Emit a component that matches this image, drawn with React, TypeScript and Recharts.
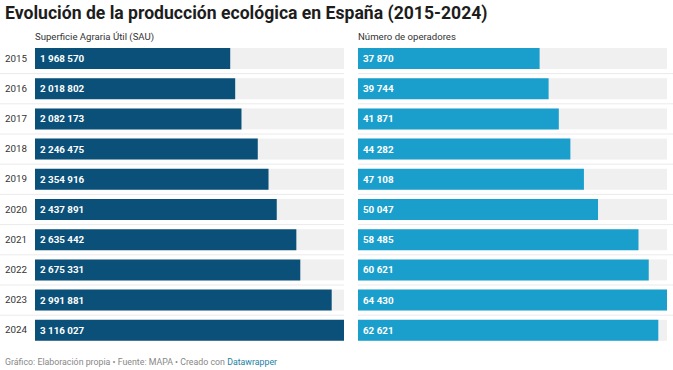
import { Bar, BarChart, LabelList, XAxis, YAxis } from "recharts";

const years = ["2015", "2016", "2017", "2018", "2019", "2020", "2021", "2022", "2023", "2024"];
const sauValues = [1968570, 2018802, 2082173, 2246475, 2354916, 2437891, 2635442, 2675331, 2991881, 3116027];
const operatorValues = [37870, 39744, 41871, 44282, 47108, 50047, 58485, 60621, 64430, 62621];

const sauData = years.map((year, i) => ({ year, value: sauValues[i] }));
const operatorData = years.map((year, i) => ({ year, value: operatorValues[i] }));

const font = "Roboto, 'Noto Sans', sans-serif";

// 1 968 570 style, space groups like the original
const formatNumber = (v: number) => String(v).replace(/\B(?=(\d{3})+(?!\d))/g, " ");

function makeBackground(lineLeft: number, lineRight: number) {
  return (props: any) => {
    const { x, y, width, height, index } = props;
    const gap = 4.6;
    return (
      <g>
        <rect x={x} y={y} width={width} height={height} fill="#f0f0f0" />
        {index < years.length - 1 && (
          <line
            x1={x - lineLeft}
            x2={x + width + lineRight}
            y1={y + height + gap}
            y2={y + height + gap}
            stroke="#ebebeb"
            strokeWidth={1}
          />
        )}
      </g>
    );
  };
}

function ValueLabel(props: any) {
  const { x, y, height, value } = props;
  return (
    <text
      x={x + 5}
      y={y + height / 2 + 3.5}
      fill="#ffffff"
      fontSize={9.8}
      fontWeight={700}
      fontFamily={font}
    >
      {formatNumber(value)}
    </text>
  );
}

export default function App() {
  return (
    <div style={{ position: "relative", width: 673, height: 370, background: "#fff", fontFamily: font, color: "#333" }}>
      <style>{"body{margin:0}"}</style>
      <div style={{ position: "absolute", left: 5, top: 3, fontSize: 17.6, fontWeight: 700, color: "#1d1d1d", whiteSpace: "nowrap" }}>
        Evolución de la producción ecológica en España (2015-2024)
      </div>
      <div style={{ position: "absolute", left: 35, top: 31, fontSize: 9.6, color: "#333" }}>Superficie Agraria Útil (SAU)</div>
      <div style={{ position: "absolute", left: 358, top: 31, fontSize: 9.6, color: "#333" }}>Número de operadores</div>

      <div style={{ position: "absolute", left: 0, top: 43.4 }}>
        <BarChart width={344} height={302} data={sauData} layout="vertical" margin={{ top: 0, right: 0, bottom: 0, left: 0 }}>
          <XAxis type="number" domain={[0, 3116027]} hide />
          <YAxis
            type="category"
            dataKey="year"
            width={35}
            axisLine={false}
            tickLine={false}
            tick={{ fill: "#333", fontSize: 9.8, fontFamily: font }}
          />
          <Bar
            dataKey="value"
            fill="#0a5078"
            barSize={21}
            isAnimationActive={false}
            background={makeBackground(35, 14)}
          >
            <LabelList dataKey="value" content={<ValueLabel />} />
          </Bar>
        </BarChart>
      </div>

      <div style={{ position: "absolute", left: 358, top: 43.4 }}>
        <BarChart width={315} height={302} data={operatorData} layout="vertical" margin={{ top: 0, right: 6, bottom: 0, left: 0 }}>
          <XAxis type="number" domain={[0, 64430]} hide />
          <YAxis type="category" dataKey="year" hide />
          <Bar
            dataKey="value"
            fill="#1a9fcc"
            barSize={21}
            isAnimationActive={false}
            background={makeBackground(0, 6)}
          >
            <LabelList dataKey="value" content={<ValueLabel />} />
          </Bar>
        </BarChart>
      </div>

      <div style={{ position: "absolute", left: 5, top: 357, fontSize: 8.8, color: "#888", whiteSpace: "nowrap" }}>
        Gráfico: Elaboración propia • Fuente: MAPA • Creado con <span style={{ color: "#1d81a2" }}>Datawrapper</span>
      </div>
    </div>
  );
}
